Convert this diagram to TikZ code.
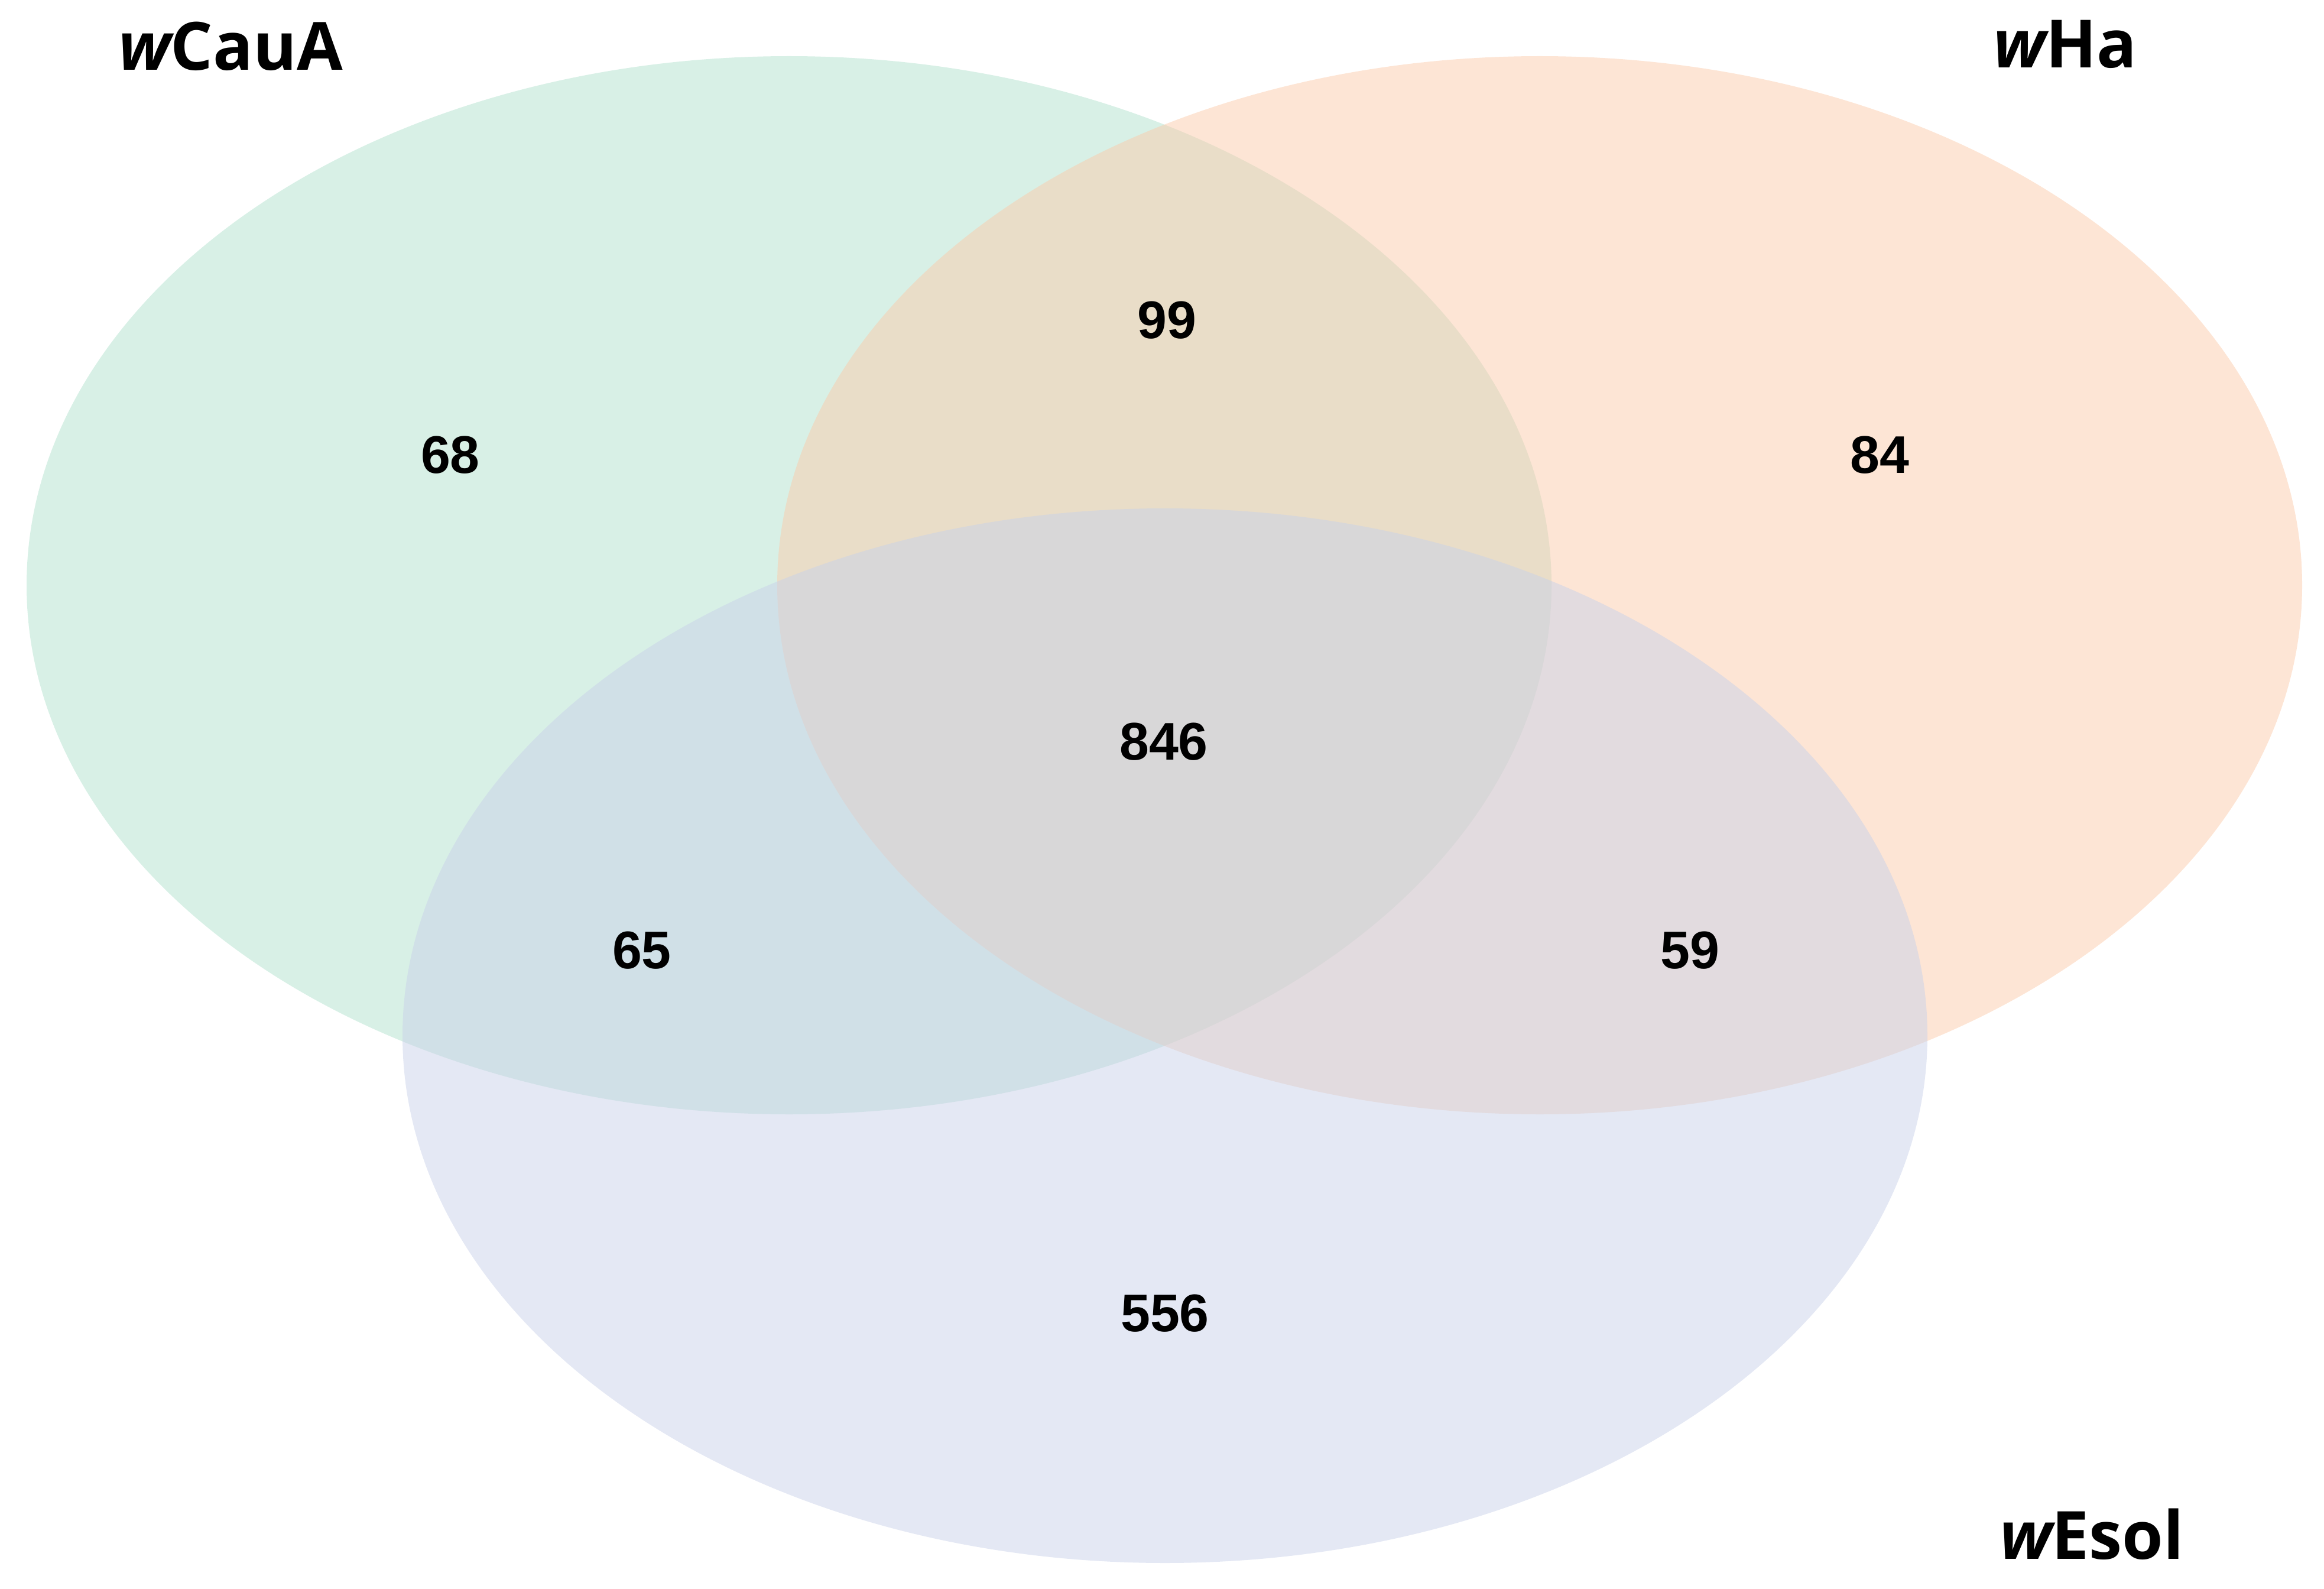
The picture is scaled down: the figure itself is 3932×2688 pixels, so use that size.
\documentclass[tikz,border=0pt]{standalone}
\usepackage{fontspec}
\setmainfont{Open Sans}
\newfontfamily\numfont{Liberation Sans}
\definecolor{cgreen}{RGB}{177,225,205}
\definecolor{corange}{RGB}{251,203,171}
\definecolor{cblue}{RGB}{201,209,233}
\begin{document}
\begin{tikzpicture}[x=0.01cm,y=-0.01cm,
  setfill/.style={fill opacity=0.5},
  setlabel/.style={font=\fontsize{32}{36}\selectfont\bfseries, inner sep=0pt},
  count/.style={font=\numfont\fontsize{25.5}{28}\selectfont\bfseries, inner sep=0pt}]
\useasboundingbox (0,0) rectangle (3932,2688);
\fill[cgreen,setfill] (1335,990) ellipse [x radius=1290, y radius=895];
\fill[corange,setfill] (2605,990) ellipse [x radius=1290, y radius=895];
\fill[cblue,setfill] (1971,1752) ellipse [x radius=1290, y radius=892];
\node[setlabel] (lA) at (390,78) {{\itshape w}CauA};
\node[setlabel] (lH) at (3494,75) {{\itshape w}Ha};
\node[setlabel] (lE) at (3539,2595) {{\itshape w}Esol};
\node[count] (n99) at (1974,542) {99};
\node[count] (n68) at (762,770) {68};
\node[count] (n84) at (3180,770) {84};
\node[count] (n846) at (1969,1255) {846};
\node[count] (n65) at (1086,1608) {65};
\node[count] (n59) at (2859,1608) {59};
\node[count] (n556) at (1971,2222) {556};
\end{tikzpicture}
\end{document}
